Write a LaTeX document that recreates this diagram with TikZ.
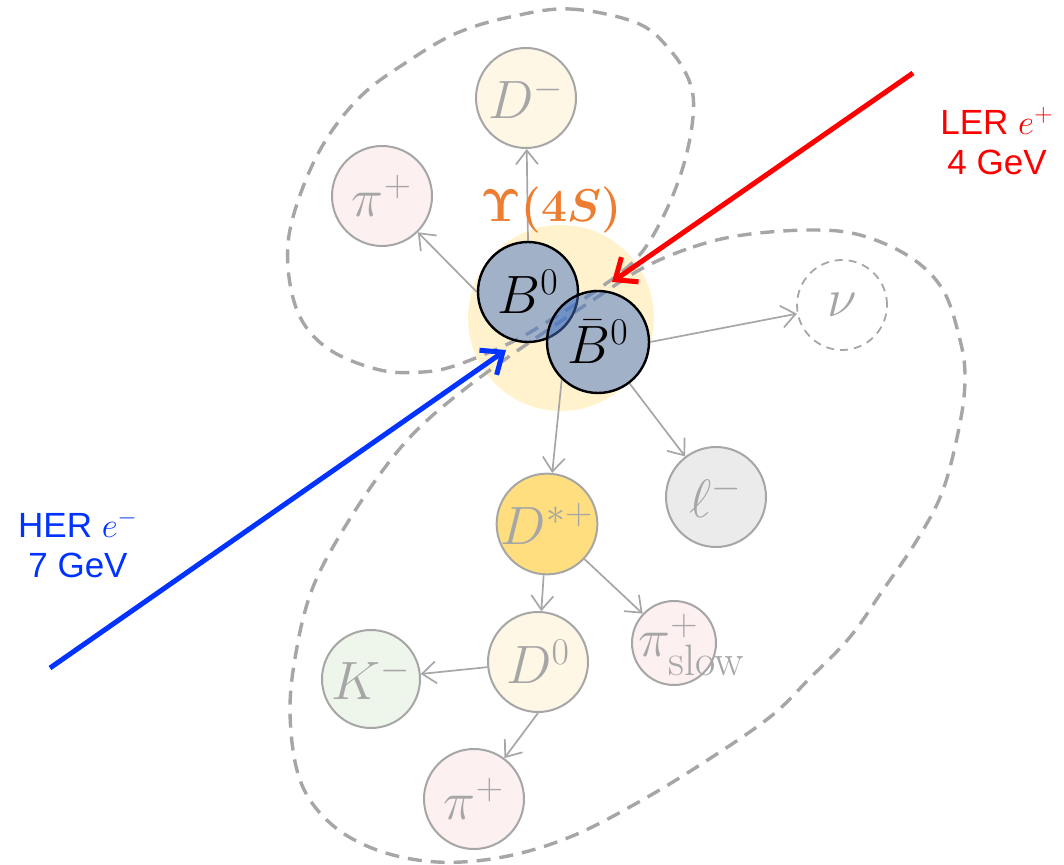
\RequirePackage{fix-cm}
\documentclass[tikz,border=0pt]{standalone}
\usepackage{amsmath}
\usepackage{fontspec}
\newfontfamily\arialf{Liberation Sans}
\usetikzlibrary{arrows.meta}
\definecolor{lgray}{HTML}{A6A6A6}
\definecolor{ups}{HTML}{FFF2CC}
\definecolor{bfill}{HTML}{4472C4}
\definecolor{upsl}{HTML}{ED7D31}
\definecolor{fD}{HTML}{FFF7E6}
\definecolor{fpi}{HTML}{FCF0F0}
\definecolor{fDs}{HTML}{FFDE80}
\definecolor{fK}{HTML}{EEF5EA}
\definecolor{fl}{HTML}{EBEBEB}
\definecolor{herblue}{HTML}{0033FF}
\definecolor{lerred}{HTML}{FF0000}
\pgfdeclarelayer{bg}
\pgfdeclarelayer{mid}
\pgfsetlayers{bg,mid,main}
\begin{document}
\begin{tikzpicture}[x=0.5pt,y=-0.5pt,
  part/.style={circle, draw=lgray, line width=1pt, minimum size=50pt, inner sep=0pt, text=lgray, font=\fontsize{27}{30}\selectfont},
  bmes/.style={circle, draw=black, line width=1.2pt, fill=bfill, fill opacity=0.5, text opacity=1, minimum size=50pt, inner sep=0pt, font=\fontsize{27}{30}\selectfont},
  decay/.style={draw=lgray, line width=0.85pt, -{Straight Barb[length=7pt,width=11pt]}},
  loopline/.style={draw=lgray, line width=1.7pt, dash pattern=on 7pt off 4.5pt},
  beam/.style={line width=2.5pt, -{Straight Barb[length=9pt,width=15pt]}},
  beamlbl/.style={font=\arialf\fontsize{17.5}{20}\selectfont, align=center}]
\useasboundingbox (0,0) rectangle (1064,865);

% nodes
\node[part, fill=fD] (Dm) at (526,98) {$D^-$};
\node[part, fill=fpi] (pia) at (382,196) {$\pi^+$};
\node[part, fill=white, minimum size=45pt, line width=0.9pt, dash pattern=on 4pt off 3pt] (nu) at (842,305) {$\nu$};
\node[part, fill=fl] (ell) at (716,497) {$\ell^-$};
\node[part, fill=fDs] (Ds) at (547,524) {$D^{*+}$};
\node[part, fill=fpi, minimum size=42pt] (pis) at (674,643) {};
\node[text=lgray, anchor=west, inner sep=0pt, font=\fontsize{27}{30}\selectfont] (pislbl) at (638,645) {$\pi^+_{\text{\fontsize{22}{24}\selectfont slow}}$};
\node[part, fill=fD] (Dz) at (538,662) {$D^0$};
\node[part, fill=fK, minimum size=49pt] (K) at (371,679) {$K^-$};
\node[part, fill=fpi] (pib) at (474,799) {$\pi^+$};
\node[bmes] (B) at (528,292) {$B^0$};
\node[bmes, minimum size=51pt] (Bb) at (598,342) {$\bar{B}^0$};
\node[text=upsl, font=\fontsize{23}{26}\selectfont] (upslbl) at (551,210) {$\boldsymbol{\Upsilon(4S)}$};

\begin{pgfonlayer}{bg}
\node[circle, fill=ups, minimum size=93pt, inner sep=0pt] (ups) at (561,318) {};
\draw[loopline] plot[smooth cycle, tension=0.6] coordinates {
 (510,17) (570,9) (637,23) (670,50) (690,83) (693,117) (683,167) (663,217)
 (637,258) (597,290) (547,322) (510,343) (457,365) (423,372) (380,370)
 (330,350) (300,317) (288,267) (293,217) (320,150) (360,97) (410,60) (457,33)};
\draw[loopline] plot[smooth cycle, tension=0.6] coordinates {
 (643,268) (693,247) (743,235) (810,230) (860,235) (910,257) (943,290)
 (960,340) (965,377) (960,423) (943,490) (917,540) (883,590) (850,637)
 (810,678) (770,717) (703,763) (637,803) (570,837) (503,857) (437,862)
 (377,850) (330,823) (300,780) (290,713) (297,647) (313,587) (343,530)
 (383,470) (420,427) (470,385) (530,342) (593,300)};
\end{pgfonlayer}

\begin{pgfonlayer}{mid}
\draw[decay] (B.north) -- (Dm);
\draw[decay] (B.west) -- (pia);
\draw[decay] (Bb.east) -- (nu);
\draw[decay] (Bb) -- (ell);
\draw[decay] (Bb.226) -- (Ds);
\draw[decay] (Ds) -- (Dz);
\draw[decay] (Ds) -- (pis);
\draw[decay] (Dz) -- (K);
\draw[decay] (Dz.south) -- (pib);
\coordinate (herS) at (50,668);
\coordinate (herT) at (506,350);
\draw[beam, draw=herblue] (herS) -- (herT);
\coordinate (lerS) at (913,73);
\coordinate (lerT) at (612,282);
\draw[beam, draw=lerred] (lerS) -- (lerT);
\end{pgfonlayer}

\node[beamlbl, text=lerred] (ler) at (997,141) {LER $e^+$\\4 GeV};
\node[beamlbl, text=herblue] (her) at (78,544) {HER $e^-$\\7 GeV};
\end{tikzpicture}
\end{document}
